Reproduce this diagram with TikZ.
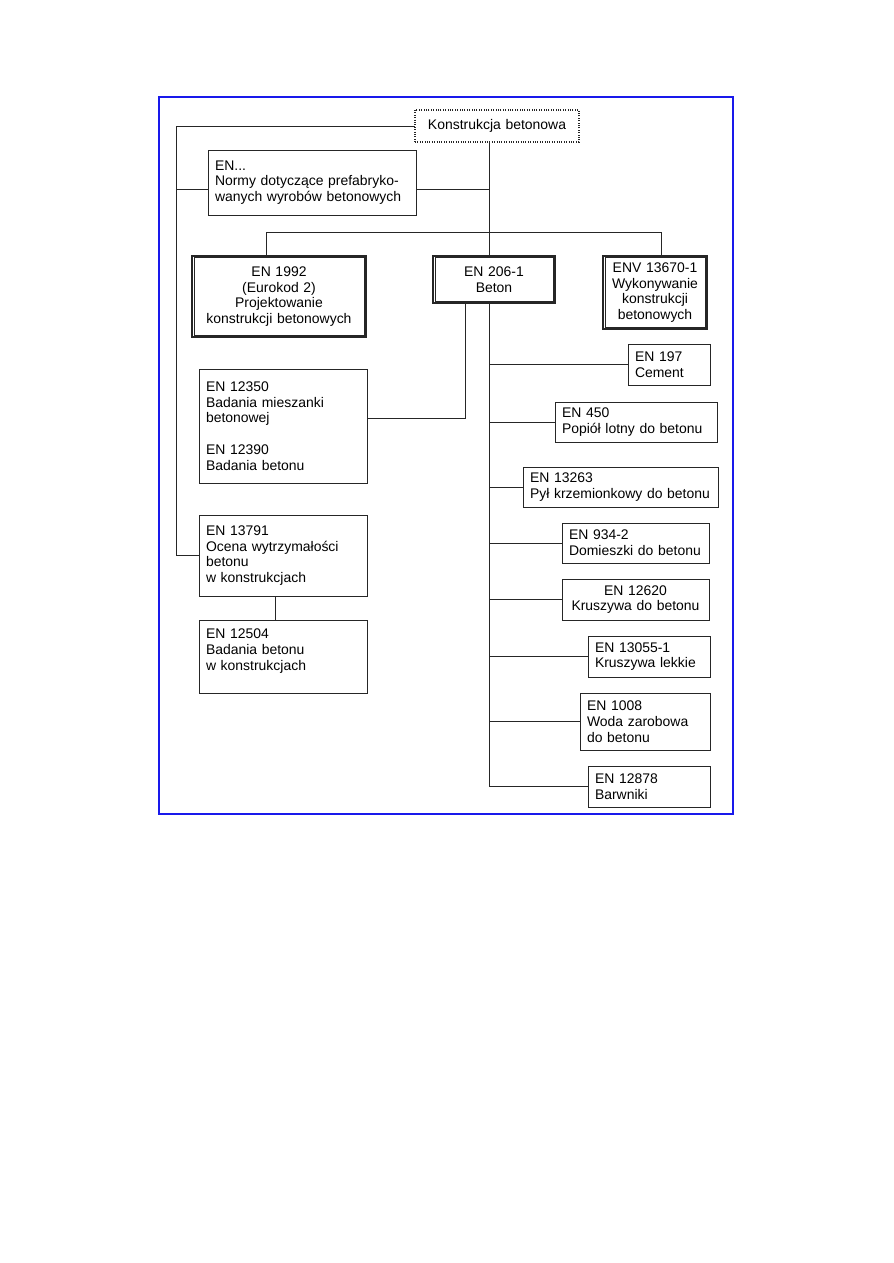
\documentclass[tikz,border=0pt]{standalone}
\usepackage{fontspec}
\setmainfont{Liberation Sans}
\newdimen\px \px=0.6666pt
\definecolor{frameblue}{RGB}{25,25,235}
\hyphenpenalty=10000 \exhyphenpenalty=10000

\begin{document}
\begin{tikzpicture}[x=0.6666pt,y=-0.6666pt,
  normbox/.style={draw=black!85,line width=0.6pt,anchor=north west,outer sep=0pt,
    inner xsep=7\px,inner ysep=0pt,align=left,font=\fontsize{9.3}{10.5}\selectfont},
  midbox/.style={normbox,align=center,inner xsep=4\px},
  doublebox/.style={midbox,line width=1pt},
  dotbox/.style={midbox,densely dotted,line width=0.8pt},
  link/.style={draw=black!85,line width=0.6pt}]
\useasboundingbox (0,0) rectangle (893,1263);
\draw[frameblue,line width=1.2pt] (159,97) rectangle (733,814);

% top of the tree
\node[dotbox,text width=156\px,minimum height=32\px] (konstr) at (415,110) {Konstrukcja betonowa};
\node[normbox,text width=194\px,minimum height=65\px] (prefab) at (208,150)
  {EN...\\Normy dotyczące prefabryko-\\wanych wyrobów betonowych};

% main standards
\node[doublebox,text width=166\px,minimum height=81\px] (ec2) at (192,256)
  {EN 1992\\(Eurokod 2)\\Projektowanie\\konstrukcji betonowych};
\node[doublebox,text width=114\px,minimum height=47\px] (beton) at (433,256) {EN 206-1\\Beton};
\node[doublebox,text width=96\px,minimum height=73\px] (wyk) at (603,256)
  {ENV 13670-1\\Wykonywanie\\konstrukcji\\betonowych};
\foreach \n in {ec2,beton,wyk}
  \draw[link,line width=0.5pt] ([shift={(1.25pt,-1.25pt)}]\n.north west) rectangle ([shift={(-1.25pt,1.25pt)}]\n.south east);

% left column
\node[normbox,text width=154\px,minimum height=114\px] (badmiesz) at (199,369)
  {EN 12350\\Badania mieszanki\\betonowej\\[10.5pt]EN 12390\\Badania betonu};
\node[normbox,text width=154\px,minimum height=81\px] (ocena) at (199,515)
  {EN 13791\\Ocena wytrzymałości\\betonu\\w konstrukcjach};
\node[normbox,text width=154\px,minimum height=73\px,text depth=45\px] (insitu) at (199,620)
  {EN 12504\\Badania betonu\\w konstrukcjach};

% constituents
\node[normbox,text width=68\px,minimum height=41\px] (cement) at (628,344) {EN 197\\Cement};
\node[normbox,text width=148\px,minimum height=40\px] (popiol) at (555,402) {EN 450\\Popiół lotny do betonu};
\node[normbox,text width=181\px,minimum height=40\px] (pyl) at (523,467) {EN 13263\\Pył krzemionkowy do betonu};
\node[normbox,text width=133\px,minimum height=40\px] (domieszki) at (562,523) {EN 934-2\\Domieszki do betonu};
\node[midbox,text width=139\px,minimum height=41\px] (kruszywa) at (562,579) {EN 12620\\Kruszywa do betonu};
\node[normbox,text width=108\px,minimum height=41\px] (lekkie) at (588,636) {EN 13055-1\\Kruszywa lekkie};
\node[normbox,text width=116\px,minimum height=57\px] (woda) at (580,693) {EN 1008\\Woda zarobowa\\do betonu};
\node[normbox,text width=108\px,minimum height=41\px] (barwniki) at (588,766) {EN 12878\\Barwniki};

% buses
\coordinate (leftbus) at (176,126);
\coordinate (mainbus) at (489,0);
\coordinate (mixbus) at (465,0);
\coordinate (barL) at (266,232);
\coordinate (barR) at (661,232);

% connectors
\draw[link] (konstr.west) -- (konstr.west -| leftbus) |- (ocena.west);
\draw[link] ([yshift=-7\px]prefab.west -| leftbus) -- ([yshift=-7\px]prefab.west);
\draw[link] (konstr.south -| mainbus) -- (beton.north -| mainbus);
\draw[link] ([yshift=-7\px]prefab.east) -- ([yshift=-7\px]prefab.east -| mainbus);
\draw[link] (ec2.north -| barL) -- (barL) -- (barR) -- (wyk.north -| barR);
\draw[link] (beton.south -| mixbus) |- ([yshift=8\px]badmiesz.east);
\draw[link] (beton.south -| mainbus) |- (barwniki.west);
\foreach \n in {cement,popiol,pyl,domieszki,kruszywa,lekkie,woda}
  \draw[link] (mainbus |- \n.west) -- (\n.west);
\draw[link] ([xshift=-8\px]ocena.south) -- ([xshift=-8\px]insitu.north);
\end{tikzpicture}
\end{document}
